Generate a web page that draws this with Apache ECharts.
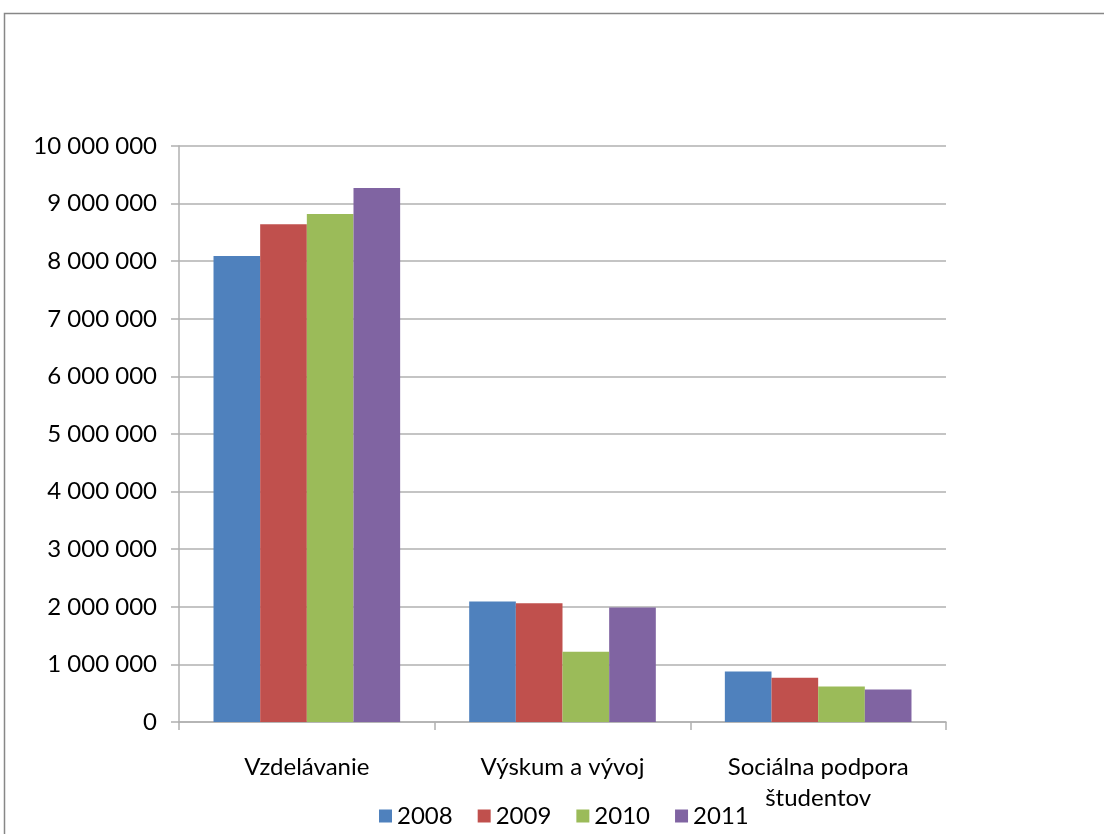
<!DOCTYPE html>
<html>
<head>
<meta charset="utf-8">
<script src="https://cdn.jsdelivr.net/npm/echarts@6/dist/echarts.min.js"></script>
<style>
  html, body { margin: 0; padding: 0; background: #fff; }
  #chart { width: 1104px; height: 834px; }
</style>
</head>
<body>
<div id="chart"></div>
<script>
// Categories and yearly values
const categories = ['Vzdelávanie', 'Výskum a vývoj', 'Sociálna podpora\nštudentov'];
const years = ['2008', '2009', '2010', '2011'];
const values2008 = [8090000, 2090000, 877000];
const values2009 = [8640000, 2060000, 770000];
const values2010 = [8820000, 1220000, 617000];
const values2011 = [9270000, 1990000, 565000];
const colors = ['#4F81BD', '#C0504D', '#9BBB59', '#8064A2'];

const seriesValues = [values2008, values2009, values2010, values2011];
const font = 'Lato, "Open Sans", sans-serif';

function fmt(v) {
  return String(v).replace(/\B(?=(\d{3})+(?!\d))/g, ' ');
}

const chart = echarts.init(document.getElementById('chart'));
chart.setOption({
  animation: false,
  backgroundColor: '#ffffff',
  color: colors,
  graphic: [{
    type: 'rect',
    shape: { x: 4.5, y: 13.5, width: 1200, height: 1000 },
    style: { fill: 'none', stroke: '#878787', lineWidth: 1.5 },
    silent: true
  }],
  grid: { left: 179, right: 158, top: 146, bottom: 112 },
  legend: {
    left: 374, top: 799,
    itemWidth: 13, itemHeight: 13, itemGap: 25,
    icon: 'rect',
    textStyle: { fontSize: 24, color: '#000', fontFamily: font },
    data: years
  },
  xAxis: {
    type: 'category',
    data: categories,
    axisLine: { lineStyle: { color: '#b0b0b0', width: 1.5 } },
    axisTick: { show: true, length: 8, lineStyle: { color: '#b0b0b0', width: 1.5 } },
    axisLabel: { fontSize: 24, color: '#000', fontFamily: font, margin: 30, lineHeight: 31 }
  },
  yAxis: {
    type: 'value',
    min: 0, max: 10000000, interval: 1000000,
    axisLine: { show: true, lineStyle: { color: '#b0b0b0', width: 1.5 } },
    axisTick: { show: true, length: 8, lineStyle: { color: '#b0b0b0', width: 1.5 } },
    splitLine: { lineStyle: { color: '#b0b0b0', width: 1.5 } },
    axisLabel: { fontSize: 24, color: '#000', fontFamily: font, margin: 22, formatter: fmt }
  },
  series: years.map((y, i) => ({
    name: y,
    type: 'bar',
    data: seriesValues[i],
    barGap: '0%',
    barCategoryGap: '27%'
  }))
});
</script>
</body>
</html>
